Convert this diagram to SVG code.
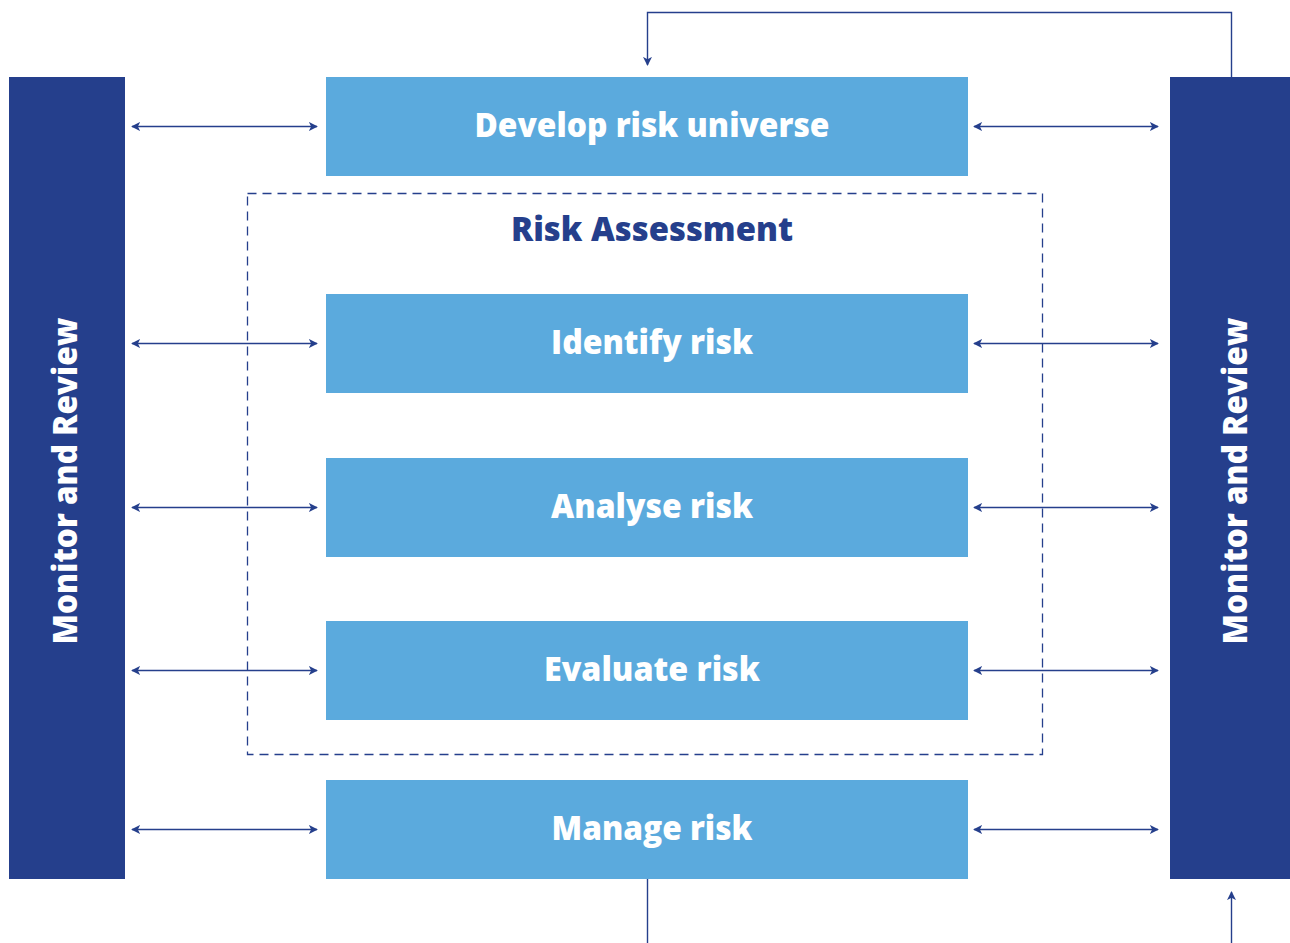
<svg xmlns="http://www.w3.org/2000/svg" width="1290" height="943" viewBox="0 0 1290 943">
  <style>
    .panel { fill: #253f8c; }
    .step { fill: #5baadd; }
    .label { font-family: "Open Sans", "Noto Sans", "Liberation Sans", sans-serif; font-weight: 800; fill: #ffffff; font-size: 34px; text-anchor: middle; }
    .title { font-family: "Open Sans", "Noto Sans", "Liberation Sans", sans-serif; font-weight: 800; fill: #253f8c; font-size: 34px; text-anchor: middle; }
    .link { stroke: #253f8c; stroke-width: 1.4; fill: none; }
    .frame { stroke: #253f8c; stroke-width: 1.3; fill: none; stroke-dasharray: 9 6; }
  </style>
  <defs>
    <marker id="head" viewBox="0 0 10 10" refX="9" refY="5" markerWidth="9" markerHeight="9" markerUnits="userSpaceOnUse" orient="auto-start-reverse">
      <path d="M0,0 L10,5 L0,10 L2.5,5 Z" fill="#253f8c"/>
    </marker>
  </defs>

  <rect width="1290" height="943" fill="#ffffff"/>

  <!-- Risk assessment frame -->
  <g id="risk-assessment">
    <rect class="frame" x="247.5" y="193.5" width="795" height="561"/>
    <text class="title" x="652" y="241" textLength="282" lengthAdjust="spacingAndGlyphs">Risk Assessment</text>
  </g>

  <!-- Side panels -->
  <g id="monitor-left">
    <rect class="panel" x="9" y="77" width="116" height="802"/>
    <text class="label" transform="translate(77 481) rotate(-90)" textLength="327" lengthAdjust="spacingAndGlyphs">Monitor and Review</text>
  </g>
  <g id="monitor-right">
    <rect class="panel" x="1170" y="77" width="120" height="802"/>
    <text class="label" transform="translate(1247 481) rotate(-90)" textLength="327" lengthAdjust="spacingAndGlyphs">Monitor and Review</text>
  </g>

  <!-- Process steps -->
  <g id="develop">
    <rect class="step" x="326" y="77" width="642" height="99"/>
    <text class="label" x="652" y="137" textLength="355" lengthAdjust="spacingAndGlyphs">Develop risk universe</text>
  </g>
  <g id="identify">
    <rect class="step" x="326" y="294" width="642" height="99"/>
    <text class="label" x="652" y="354" textLength="202" lengthAdjust="spacingAndGlyphs">Identify risk</text>
  </g>
  <g id="analyse">
    <rect class="step" x="326" y="458" width="642" height="99"/>
    <text class="label" x="652" y="518" textLength="202" lengthAdjust="spacingAndGlyphs">Analyse risk</text>
  </g>
  <g id="evaluate">
    <rect class="step" x="326" y="621" width="642" height="99"/>
    <text class="label" x="652" y="681" textLength="216" lengthAdjust="spacingAndGlyphs">Evaluate risk</text>
  </g>
  <g id="manage">
    <rect class="step" x="326" y="780" width="642" height="99"/>
    <text class="label" x="652" y="840" textLength="201" lengthAdjust="spacingAndGlyphs">Manage risk</text>
  </g>

  <!-- Connectors -->
  <g id="connectors">
    <line class="link" x1="132" y1="126.5" x2="317" y2="126.5" marker-start="url(#head)" marker-end="url(#head)"/>
    <line class="link" x1="132" y1="343.5" x2="317" y2="343.5" marker-start="url(#head)" marker-end="url(#head)"/>
    <line class="link" x1="132" y1="507.5" x2="317" y2="507.5" marker-start="url(#head)" marker-end="url(#head)"/>
    <line class="link" x1="132" y1="670.5" x2="317" y2="670.5" marker-start="url(#head)" marker-end="url(#head)"/>
    <line class="link" x1="132" y1="829.5" x2="317" y2="829.5" marker-start="url(#head)" marker-end="url(#head)"/>

    <line class="link" x1="974" y1="126.5" x2="1158" y2="126.5" marker-start="url(#head)" marker-end="url(#head)"/>
    <line class="link" x1="974" y1="343.5" x2="1158" y2="343.5" marker-start="url(#head)" marker-end="url(#head)"/>
    <line class="link" x1="974" y1="507.5" x2="1158" y2="507.5" marker-start="url(#head)" marker-end="url(#head)"/>
    <line class="link" x1="974" y1="670.5" x2="1158" y2="670.5" marker-start="url(#head)" marker-end="url(#head)"/>
    <line class="link" x1="974" y1="829.5" x2="1158" y2="829.5" marker-start="url(#head)" marker-end="url(#head)"/>

    <!-- feedback loop over the top -->
    <polyline class="link" points="1231.5,77 1231.5,12.5 647.5,12.5 647.5,65" marker-end="url(#head)"/>
    <!-- lines leaving the bottom -->
    <line class="link" x1="647.5" y1="879" x2="647.5" y2="943"/>
    <line class="link" x1="1231.5" y1="943" x2="1231.5" y2="892" marker-end="url(#head)"/>
  </g>
</svg>
